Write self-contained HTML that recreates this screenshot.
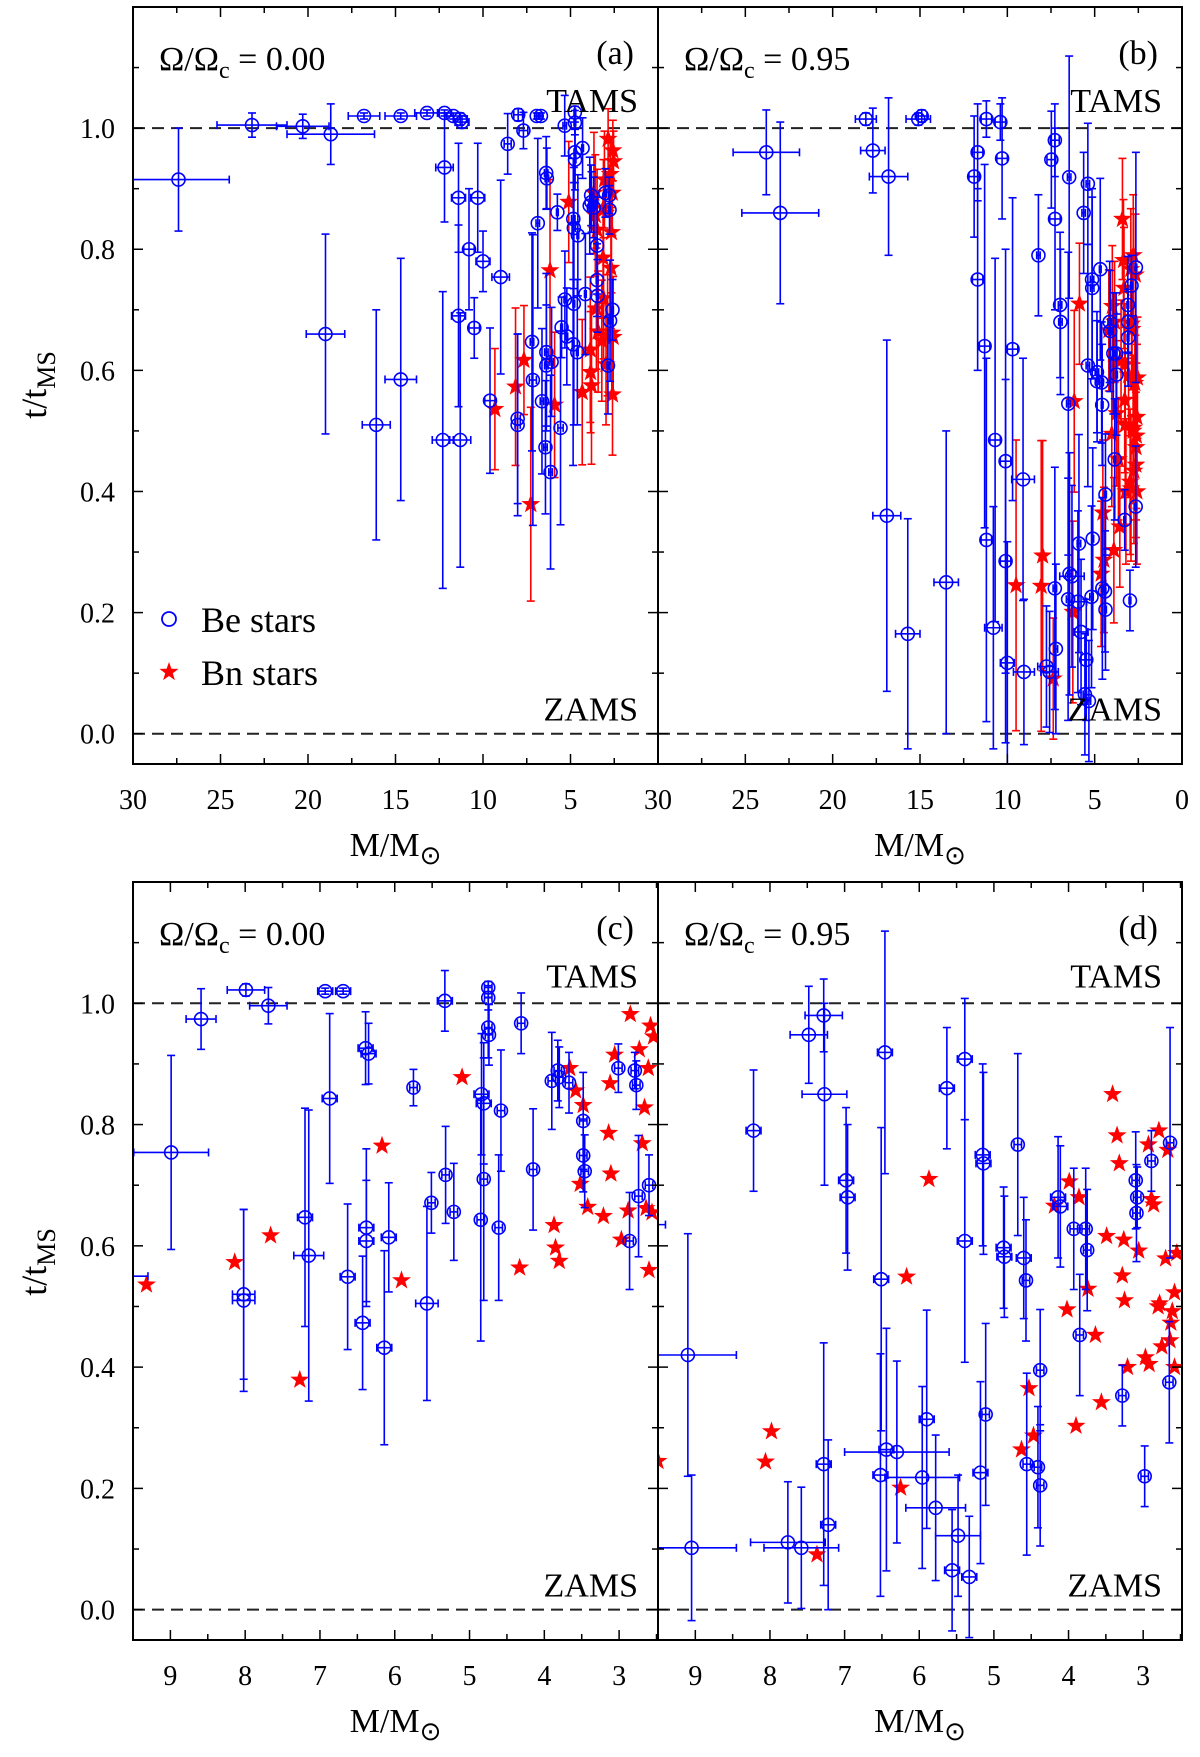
<!DOCTYPE html>
<html><head><meta charset="utf-8"><style>
html,body{margin:0;padding:0;background:#fff;}
svg{display:block;font-family:"Liberation Serif",serif;}
</style></head><body>
<svg id="chart" width="1200" height="1757" viewBox="0 0 1200 1757" xmlns="http://www.w3.org/2000/svg"></svg>
<script>
// ---- data: Omega/Omega_c = 0.00 ----
const be0Mass=[27.4,23.2,20.3,18.7,19.0,16.8,16.1,14.7,14.7,13.2,12.2,11.7,11.3,11.2,12.2,12.3,11.3,11.4,11.4,10.8,10.5,10.3,10.0,9.6,
8.99,8.59,7.99,7.69,8.02,8.02,6.93,6.69,6.87,7.2,7.15,6.63,6.43,6.38,6.38,6.39,6.35,6.14,6.08,5.75,5.57,5.51,5.33,5.32,5.21,4.85,4.84,4.81,4.81,4.75,4.75,4.75,4.74,4.61,4.58,4.31,4.15,3.9,3.82,3.8,3.67,3.48,3.48,3.46,3.01,2.79,2.77,2.86,2.74,2.6];
const be0Age=[0.915,1.005,1.003,0.99,0.66,1.02,0.51,0.585,1.02,1.025,1.025,1.02,1.015,1.01,0.935,0.485,0.485,0.885,0.69,0.80,0.67,0.885,0.78,0.55,
0.754,0.974,1.022,0.996,0.52,0.51,1.02,1.02,0.843,0.647,0.584,0.549,0.473,0.63,0.608,0.926,0.917,0.432,0.614,0.861,0.505,0.671,1.004,0.717,0.656,0.643,0.85,0.835,0.71,1.026,1.009,0.96,0.948,0.63,0.823,0.967,0.726,0.872,0.889,0.878,0.869,0.806,0.749,0.723,0.893,0.889,0.865,0.608,0.682,0.7];
const be0MassErr=[2.9,2.0,1.5,2.5,1.1,0.9,0.8,0.9,0.9,0.7,0.4,0.4,0.4,0.4,0.5,0.6,0.6,0.4,0.4,0.3,0.3,0.4,0.4,0.3,
0.5,0.2,0.25,0.25,0.15,0.15,0.1,0.1,0.1,0.1,0.2,0.1,0.1,0.1,0.1,0.1,0.1,0.1,0.1,0.05,0.15,0.05,0.1,0.05,0.05,0.05,0.1,0.1,0.05,0.05,0.05,0.05,0.05,0.05,0.05,0.05,0.05,0.05,0.05,0.05,0.05,0.05,0.05,0.05,0.05,0.05,0.05,0.05,0.05,0.05];
const be0AgeErr=[0.085,0.02,0.02,0.05,0.165,0.005,0.19,0.2,0.005,0.005,0.005,0.005,0.01,0.01,0.09,0.245,0.21,0.09,0.15,0.1,0.05,0.09,0.05,0.12,
0.16,0.05,0.01,0.03,0.14,0.15,0.005,0.005,0.14,0.18,0.24,0.12,0.11,0.13,0.1,0.06,0.05,0.16,0.09,0.03,0.16,0.05,0.05,0.08,0.08,0.2,0.1,0.1,0.2,0.01,0.02,0.05,0.05,0.12,0.1,0.05,0.1,0.08,0.05,0.05,0.05,0.08,0.06,0.06,0.04,0.03,0.04,0.08,0.1,0.05];
const bn0Mass=[9.32,8.14,7.66,7.27,6.17,5.91,5.1,4.33,3.87,3.85,3.8,3.66,3.58,3.48,3.52,3.42,3.12,3.11,3.21,3.14,3.06,2.88,2.97,2.85,2.73,2.69,2.66,2.61,2.58,2.54,2.64,2.56,2.6];
const bn0Age=[0.536,0.573,0.617,0.379,0.765,0.543,0.878,0.564,0.634,0.597,0.575,0.893,0.856,0.832,0.702,0.664,0.868,0.719,0.649,0.786,0.915,0.658,0.61,0.982,0.924,0.769,0.828,0.893,0.963,0.945,0.662,0.655,0.56];
const bn0AgeErr=[0.1,0.13,0.09,0.16,0.15,0.12,0.1,0.12,0.12,0.1,0.13,0.1,0.1,0.1,0.1,0.1,0.08,0.1,0.1,0.1,0.08,0.1,0.1,0.05,0.06,0.1,0.1,0.07,0.05,0.05,0.1,0.1,0.1];
// ---- data: Omega/Omega_c = 0.95 ----
const be95Mass=[23.8,23.0,18.1,17.7,16.8,16.9,15.7,13.5,15.1,14.9,11.9,11.7,11.2,11.7,11.3,11.2,10.8,10.7,10.4,10.3,10.1,10.1,10.0,9.7,
9.1,9.05,8.22,7.48,7.28,7.27,6.98,6.96,7.76,7.58,7.28,7.22,6.52,6.46,6.51,6.44,6.3,5.96,5.9,5.78,5.63,5.56,5.48,5.39,5.39,5.33,5.18,5.15,5.14,5.11,4.87,4.86,4.68,4.6,4.57,4.56,4.41,4.38,4.38,4.14,4.11,3.93,3.85,3.77,3.75,3.28,3.1,3.09,3.08,2.98,2.89,2.64,2.65];
const be95Age=[0.96,0.86,1.015,0.963,0.92,0.36,0.165,0.25,1.015,1.02,0.92,0.96,1.015,0.75,0.64,0.32,0.175,0.485,1.01,0.95,0.45,0.285,0.117,0.635,
0.42,0.102,0.79,0.948,0.98,0.85,0.708,0.68,0.111,0.102,0.24,0.14,0.222,0.919,0.545,0.264,0.26,0.218,0.314,0.168,0.86,0.065,0.122,0.608,0.908,0.054,0.226,0.75,0.736,0.322,0.597,0.582,0.767,0.58,0.543,0.24,0.235,0.205,0.395,0.68,0.665,0.628,0.453,0.628,0.593,0.353,0.708,0.654,0.68,0.22,0.74,0.77,0.375];
const be95MassErr=[1.9,2.2,0.6,0.7,1.1,0.8,0.7,0.7,0.7,0.3,0.3,0.3,0.3,0.3,0.3,0.3,0.5,0.3,0.3,0.3,0.3,0.3,0.4,0.3,
0.65,0.6,0.1,0.25,0.25,0.3,0.1,0.1,0.5,0.5,0.1,0.1,0.1,0.1,0.1,0.1,0.7,0.5,0.1,0.4,0.1,0.1,0.3,0.1,0.1,0.1,0.1,0.1,0.1,0.05,0.1,0.1,0.05,0.1,0.05,0.05,0.05,0.05,0.05,0.1,0.1,0.05,0.05,0.05,0.05,0.05,0.05,0.05,0.05,0.05,0.05,0.05,0.05];
const be95AgeErr=[0.07,0.15,0.01,0.07,0.13,0.29,0.19,0.25,0.01,0.01,0.1,0.08,0.03,0.15,0.3,0.3,0.2,0.3,0.03,0.1,0.35,0.3,0.2,0.25,
0.2,0.12,0.1,0.08,0.06,0.15,0.12,0.12,0.1,0.1,0.2,0.14,0.2,0.2,0.25,0.2,0.15,0.15,0.18,0.12,0.1,0.1,0.1,0.2,0.1,0.1,0.15,0.15,0.15,0.15,0.1,0.1,0.15,0.1,0.1,0.15,0.1,0.1,0.1,0.1,0.1,0.1,0.1,0.1,0.1,0.05,0.08,0.08,0.05,0.05,0.05,0.19,0.1];
const bn95Mass=[7.98,8.06,7.37,6.25,6.17,5.87,4.63,4.53,4.47,4.19,4.02,3.99,3.9,3.86,3.74,3.64,3.56,3.49,3.41,3.35,3.32,3.26,3.28,3.25,3.21,3.06,2.97,2.93,2.89,2.86,2.92,2.8,2.78,2.79,2.75,2.7,2.64,2.61,2.58,2.58,2.55,2.67,2.63,9.5];
const bn95Age=[0.294,0.244,0.091,0.201,0.549,0.71,0.264,0.365,0.287,0.666,0.495,0.706,0.303,0.68,0.529,0.453,0.342,0.616,0.85,0.782,0.736,0.61,0.551,0.51,0.4,0.592,0.416,0.767,0.677,0.668,0.405,0.5,0.505,0.79,0.434,0.579,0.444,0.492,0.523,0.4,0.588,0.758,0.473,0.245];
const bn95AgeErr=[0.19,0.24,0.1,0.15,0.15,0.1,0.12,0.12,0.12,0.1,0.12,0.1,0.12,0.1,0.12,0.1,0.1,0.1,0.1,0.1,0.1,0.1,0.12,0.12,0.12,0.1,0.12,0.1,0.1,0.1,0.12,0.12,0.12,0.1,0.12,0.1,0.12,0.12,0.12,0.12,0.1,0.1,0.12,0.24];
const ageTicks=[0.0,0.2,0.4,0.6,0.8,1.0];
const ageTickLabels=["0.0","0.2","0.4","0.6","0.8","1.0"];
const massTicksTop=[30,25,20,15,10,5,0];
const massTicksBottom=[9,8,7,6,5,4,3];

const NS="http://www.w3.org/2000/svg";
const svg=document.getElementById('chart');
function mk(tag,attrs,parent){const e=document.createElementNS(NS,tag);for(const k in attrs)e.setAttribute(k,attrs[k]);(parent||svg).appendChild(e);return e;}

const panels=[
 {id:'a',x0:133,x1:658,y0:7,y1:764,mMax:30,mMin:0,rot:'0.00',set:0,errStars:true,lab:'(a)',ticks:massTicksTop,minor:2.5,showRightLabel:false},
 {id:'b',x0:658,x1:1182,y0:7,y1:764,mMax:30,mMin:0,rot:'0.95',set:1,errStars:true,lab:'(b)',ticks:massTicksTop,minor:2.5,showRightLabel:true},
 {id:'c',x0:133,x1:658,y0:882,y1:1640,mMax:9.5,mMin:2.48,rot:'0.00',set:0,errStars:false,lab:'(c)',ticks:massTicksBottom,minor:0.5},
 {id:'d',x0:658,x1:1182,y0:882,y1:1640,mMax:9.5,mMin:2.48,rot:'0.95',set:1,errStars:false,lab:'(d)',ticks:massTicksBottom,minor:0.5}
];
const sets=[
 {bm:be0Mass,bt:be0Age,bxe:be0MassErr,bye:be0AgeErr,nm:bn0Mass,nt:bn0Age,nye:bn0AgeErr},
 {bm:be95Mass,bt:be95Age,bxe:be95MassErr,bye:be95AgeErr,nm:bn95Mass,nt:bn95Age,nye:bn95AgeErr}
];
const tMin=-0.05,tMax=1.2;

function starPath(cx,cy,R){const r=R*0.4;let d='';for(let i=0;i<10;i++){const a=-Math.PI/2+i*Math.PI/5;const rr=i%2?r:R;d+=(i?'L':'M')+(cx+rr*Math.cos(a)).toFixed(1)+','+(cy+rr*Math.sin(a)).toFixed(1);}return d+'Z';}

panels.forEach((p,pi)=>{
  const X=m=>p.x0+(p.mMax-m)/(p.mMax-p.mMin)*(p.x1-p.x0);
  const Y=t=>p.y1-(t-tMin)/(tMax-tMin)*(p.y1-p.y0);
  const g=mk('g',{});
  
  
  const cp=mk('clipPath',{id:'clip'+p.id},g);
  mk('rect',{x:p.x0,y:p.y0,width:p.x1-p.x0,height:p.y1-p.y0},cp);
  // dashed lines
  [0,1].forEach(v=>{const l=mk('line',{x1:p.x0,x2:p.x1,y1:Y(v),y2:Y(v),stroke:'#222','stroke-width':2,'stroke-dasharray':'12,7'},g);
    });
  const data=mk('g',{'clip-path':'url(#clip'+p.id+')'},g);
  
  const s=sets[p.set];
  // Bn stars
  s.nm.forEach((m,i)=>{
    const x=X(m),y=Y(s.nt[i]);
    if(p.errStars){
      const e=s.nye[i];
      mk('line',{x1:x,x2:x,y1:Y(s.nt[i]-e),y2:Y(s.nt[i]+e),stroke:'#f00','stroke-width':1.6},data);
      [s.nt[i]-e,s.nt[i]+e].forEach(v=>mk('line',{x1:x-4,x2:x+4,y1:Y(v),y2:Y(v),stroke:'#f00','stroke-width':1.6},data));
    }
    const st=mk('path',{d:starPath(x,y,10),fill:'#f00'},data);
    
    
  });
  // Be stars
  s.bm.forEach((m,i)=>{
    const x=X(m),y=Y(s.bt[i]),e=s.bye[i],xe=s.bxe[i];
    const gg=mk('g',{stroke:'#00f','stroke-width':1.6,fill:'none'},data);
    
    
    mk('line',{x1:x,x2:x,y1:Y(s.bt[i]-e),y2:Y(s.bt[i]+e)},gg);
    [s.bt[i]-e,s.bt[i]+e].forEach(v=>mk('line',{x1:x-4,x2:x+4,y1:Y(v),y2:Y(v)},gg));
    mk('line',{x1:X(m+xe),x2:X(m-xe),y1:y,y2:y},gg);
    [m+xe,m-xe].forEach(v=>mk('line',{x1:X(v),x2:X(v),y1:y-4,y2:y+4},gg));
    mk('circle',{cx:x,cy:y,r:6.5},gg);
  });
  // frame
  const fr=mk('rect',{x:p.x0,y:p.y0,width:p.x1-p.x0,height:p.y1-p.y0,fill:'none',stroke:'#000','stroke-width':2},g);
  
  // y ticks
  for(let v=0;v<=1.2001;v+=0.1){const y=Y(v);const L=(Math.round(v*10)%2===0)?10:6;
    mk('line',{x1:p.x0,x2:p.x0+L,y1:y,y2:y,stroke:'#000','stroke-width':1.5},g);
    mk('line',{x1:p.x1,x2:p.x1-L,y1:y,y2:y,stroke:'#000','stroke-width':1.5},g);}
  if(p.id==='a'||p.id==='c'){
    ageTicks.forEach((v,i)=>{const t=mk('text',{x:115,y:Y(v)+10,'font-size':28,'text-anchor':'end'},g);t.textContent=ageTickLabels[i];
      });
  }
  // x ticks
  for(let v=Math.ceil(p.mMin/p.minor)*p.minor;v<=p.mMax+1e-6;v+=p.minor){const x=X(v);
    const major=Math.abs(v-Math.round(v/(p.minor*2))*(p.minor*2))<1e-6;const L=major?10:6;
    mk('line',{x1:x,x2:x,y1:p.y1,y2:p.y1-L,stroke:'#000','stroke-width':1.5},g);
    mk('line',{x1:x,x2:x,y1:p.y0,y2:p.y0+L,stroke:'#000','stroke-width':1.5},g);}
  p.ticks.forEach(v=>{
    if(v===30&&p.id==='b'){}
    if(v===0&&p.id==='a')return;
    const t=mk('text',{x:X(v),y:p.y1+45,'font-size':28,'text-anchor':'middle'},g);t.textContent=String(v);
    });
  // x title
  const xt=mk('text',{x:(p.x0+p.x1)/2,y:p.y1+92,'font-size':34,'text-anchor':'middle'},g);
  
  xt.innerHTML='M/M<tspan baseline-shift="-8" font-size="26">⊙</tspan>';
  // annotations
  const rt=mk('text',{x:p.x0+26,y:p.y0+63,'font-size':34},g);
  
  rt.innerHTML='Ω/Ω<tspan baseline-shift="-8" font-size="24">c</tspan> = '+p.rot;
  const pl=mk('text',{x:p.x1-24,y:p.y0+57,'font-size':34,'text-anchor':'end'},g);pl.textContent=p.lab;
  
  const ta=mk('text',{x:p.x1-20,y:Y(1)-16,'font-size':34,'text-anchor':'end'},g);ta.textContent='TAMS';
  
  const za=mk('text',{x:p.x1-20,y:Y(0)-13,'font-size':34,'text-anchor':'end'},g);za.textContent='ZAMS';
  
});
// y titles
[385,1262].forEach(cy=>{const t=mk('text',{x:46,y:cy,'font-size':36,'text-anchor':'middle',transform:'rotate(-90 46 '+cy+')'});
  
  t.innerHTML='t/t<tspan baseline-shift="-9" font-size="26">MS</tspan>';});
// legend
const lg=mk('g',{});

mk('circle',{cx:169,cy:619,r:7,fill:'none',stroke:'#00f','stroke-width':1.8},lg);
const l1=mk('text',{x:201,y:632,'font-size':36},lg);l1.textContent='Be stars';

mk('path',{d:starPath(169,672,10),fill:'#f00'},lg);
const l2=mk('text',{x:201,y:685,'font-size':36},lg);l2.textContent='Bn stars';

</script>
</body></html>
